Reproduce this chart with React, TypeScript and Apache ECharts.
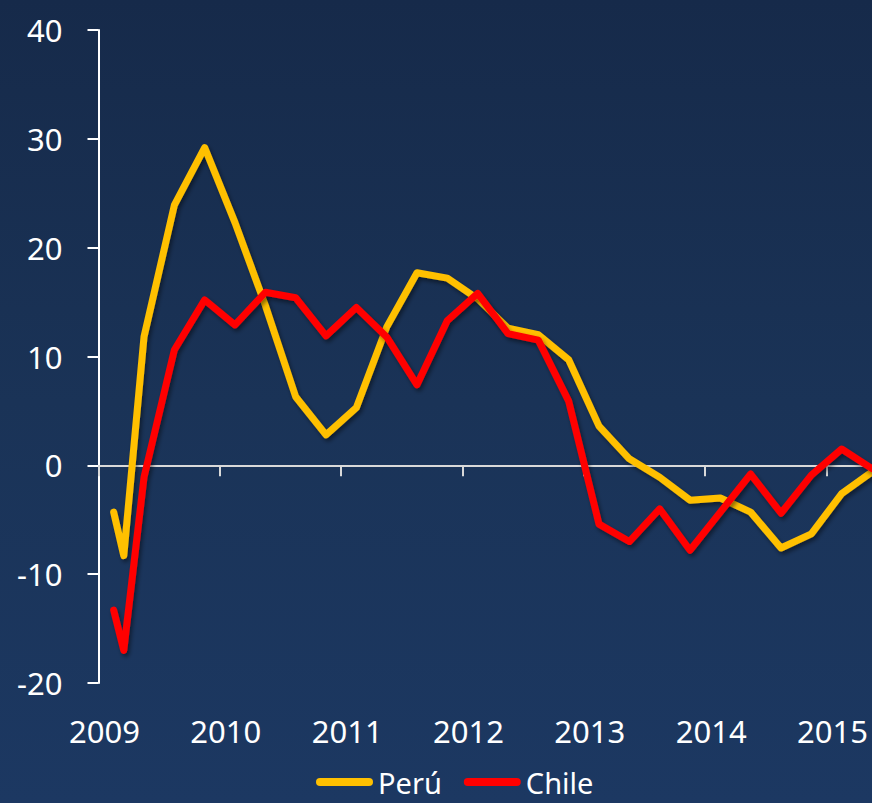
import React, { useEffect, useRef } from "react";
import * as echarts from "echarts";

// Month index since Jan 2009 (mid-month positions)
const monthIndex = [1.5, 2.5, 4.5, 7.5, 10.5, 13.5, 16.5, 19.5, 22.5, 25.5, 28.5, 31.5, 34.5, 37.5, 40.5, 43.5, 46.5, 49.5, 52.5, 55.5, 58.5, 61.5, 64.5, 67.5, 70.5, 73.5, 76.5];
const peru = [-4.3, -8.3, 11.8, 23.9, 29.2, 22.3, 14.7, 6.3, 2.8, 5.3, 12.7, 17.7, 17.2, 15.3, 12.6, 12.0, 9.7, 3.6, 0.6, -1.1, -3.2, -3.0, -4.3, -7.6, -6.3, -2.6, -0.6];
const chile = [-13.3, -17.0, -1.1, 10.6, 15.2, 12.9, 15.9, 15.4, 11.9, 14.5, 11.8, 7.4, 13.3, 15.8, 12.1, 11.5, 5.9, -5.4, -7.0, -4.0, -7.8, -4.3, -0.8, -4.4, -0.9, 1.5, -0.3];
const firstYear = 2009;
const yTicks = { min: -20, max: 40, interval: 10 };
const seriesNames = ["Perú", "Chile"];

const FONT = "Noto Sans";

export default function App() {
  const ref = useRef<HTMLDivElement>(null);
  useEffect(() => {
    document.body.style.margin = "0";
    if (!ref.current) return;
    const chart = echarts.init(ref.current, null, { renderer: "svg" });
    const xMin = 0;
    const xMax = monthIndex[monthIndex.length - 1];
    const yearFmt = (v: number) => (Math.abs(v % 12) < 1e-6 ? String(firstYear + v / 12) : "");
    const shadow = {
      shadowColor: "rgba(0,0,0,0.45)",
      shadowBlur: 4,
      shadowOffsetX: 2,
      shadowOffsetY: 3,
    };
    chart.setOption({
      animation: false,
      backgroundColor: "transparent",
      grid: { left: 98.5, right: 0, top: 30, bottom: 120, containLabel: false },
      legend: {
        data: seriesNames,
        left: 311,
        top: 761,
        itemWidth: 57,
        itemHeight: 8,
        itemGap: 22,
        icon: "path://M4,0L53,0A4,4,0,0,1,53,8L4,8A4,4,0,0,1,4,0Z",
        textStyle: { color: "#ffffff", fontSize: 29, fontFamily: FONT, lineHeight: 32 },
      },
      xAxis: [
        {
          type: "value",
          min: xMin,
          max: xMax,
          interval: 12,
          axisLine: { show: true, onZero: true, lineStyle: { color: "#d9d9d9", width: 2 } },
          axisTick: { show: true, length: 11, lineStyle: { color: "#d9d9d9", width: 2 } },
          axisLabel: { show: false },
          splitLine: { show: false },
        },
        {
          type: "value",
          min: xMin,
          max: xMax,
          interval: 12,
          position: "bottom",
          axisLine: { show: false, onZero: false },
          axisTick: { show: false },
          splitLine: { show: false },
          axisLabel: {
            show: true,
            showMaxLabel: false,
            color: "#ffffff",
            fontSize: 31,
            fontFamily: FONT,
            margin: 32,
            padding: [0, 0, 0, 12],
            formatter: yearFmt,
          },
        },
      ],
      yAxis: {
        type: "value",
        min: yTicks.min,
        max: yTicks.max,
        interval: yTicks.interval,
        axisLine: { show: true, lineStyle: { color: "#ffffff", width: 2 } },
        axisTick: { show: true, inside: false, length: 11, lineStyle: { color: "#ffffff", width: 2 } },
        splitLine: { show: false },
        axisLabel: { color: "#ffffff", fontSize: 31, fontFamily: FONT, margin: 36 },
      },
      series: [
        {
          name: seriesNames[0],
          type: "line",
          xAxisIndex: 0,
          showSymbol: false,
          data: monthIndex.map((m, i) => [m, peru[i]]),
          itemStyle: { color: "#FFC000" },
          lineStyle: { color: "#FFC000", width: 7, cap: "round", join: "round", ...shadow },
        },
        {
          name: seriesNames[1],
          type: "line",
          xAxisIndex: 0,
          showSymbol: false,
          data: monthIndex.map((m, i) => [m, chile[i]]),
          itemStyle: { color: "#FF0000" },
          lineStyle: { color: "#FF0000", width: 7, cap: "round", join: "round", ...shadow },
        },
      ],
    });
    return () => chart.dispose();
  }, []);
  return (
    <div
      style={{
        width: 872,
        height: 803,
        background: "linear-gradient(180deg, #162a4a 0%, #1a3357 50%, #1c3862 100%)",
      }}
    >
      <div ref={ref} style={{ width: 872, height: 803 }} />
    </div>
  );
}
